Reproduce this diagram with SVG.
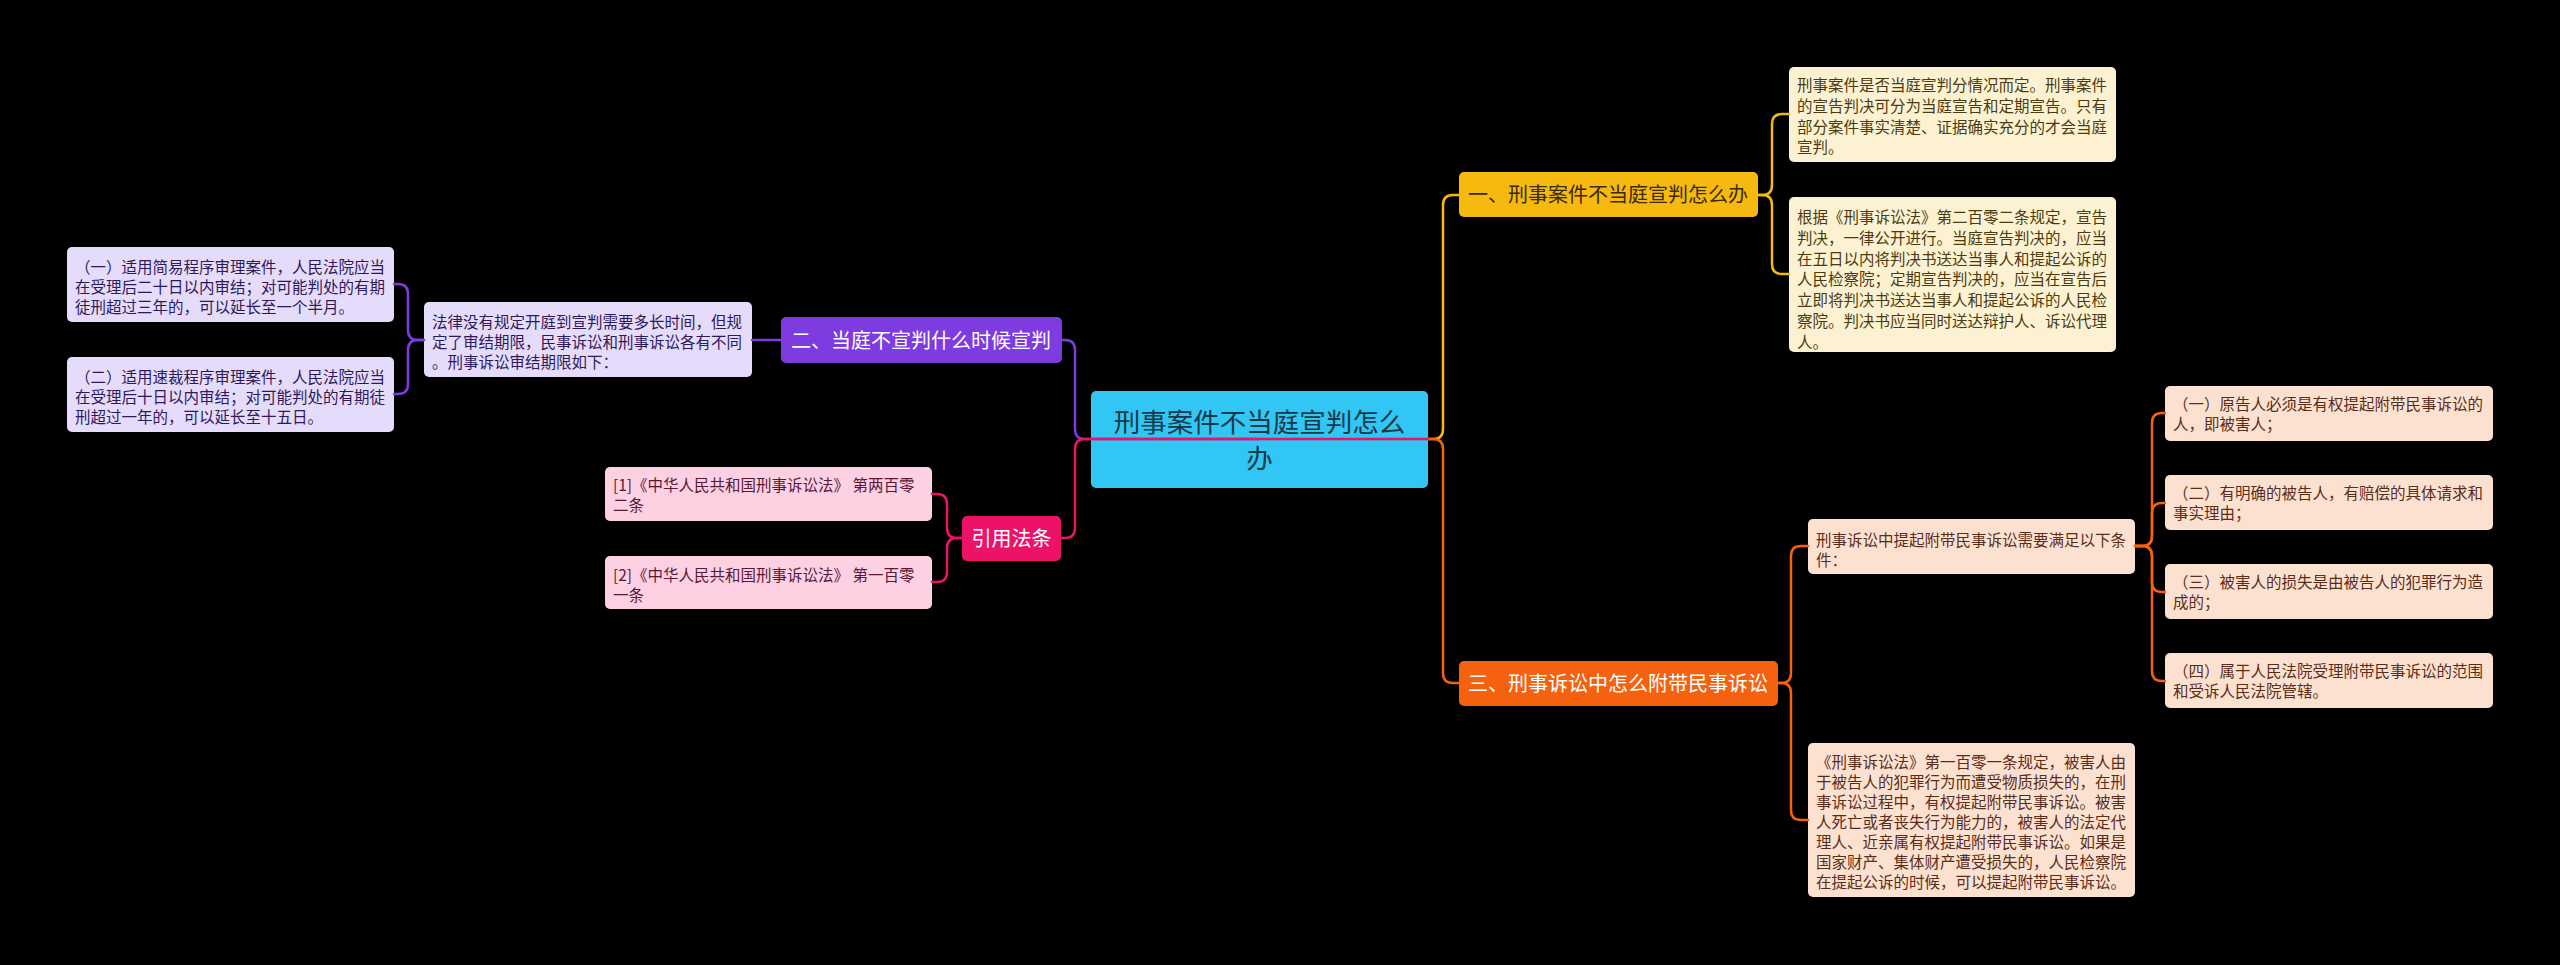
<svg xmlns="http://www.w3.org/2000/svg" width="2560" height="965" viewBox="0 0 2560 965">
<style>
text{font-family:"Noto Sans CJK SC","Noto Sans",sans-serif;}
.t{font-size:15.5px;}
.n{font-size:20px;}
.c{fill:none;stroke-width:2.5;stroke-linecap:round;}
.y{stroke:#f5b90f}.o{stroke:#f4620f}.p{stroke:#7d3be0}.k{stroke:#ec1268}
</style>
<rect x="0" y="0" width="2560" height="965" fill="#000"/>
<g id="root">
<rect x="1091" y="391" width="337" height="97" rx="5" fill="#31c6f3"/>
<text x="1259.5" y="432" font-size="26.5" fill="#153a4a" text-anchor="middle">刑事案件不当庭宣判怎么<tspan x="1259.5" dy="36">办</tspan></text>
</g>
<g id="n1">
<rect x="1459" y="172" width="299" height="45" rx="5" fill="#f5b90f"/>
<text class="n" x="1468" y="202" fill="#3a2a05">一、刑事案件不当庭宣判怎么办</text>
</g>
<g id="n1a">
<rect x="1789" y="67" width="327" height="95" rx="5" fill="#fcf2d2"/>
<text class="t" x="1797" y="91" fill="#4d3b10">刑事案件是否当庭宣判分情况而定。刑事案件<tspan x="1797" dy="20.8">的宣告判决可分为当庭宣告和定期宣告。只有</tspan><tspan x="1797" dy="20.8">部分案件事实清楚、证据确实充分的才会当庭</tspan><tspan x="1797" dy="20.8">宣判。</tspan></text>
</g>
<g id="n1b">
<rect x="1789" y="197" width="327" height="155" rx="5" fill="#fcf2d2"/>
<text class="t" x="1797" y="223" fill="#4d3b10">根据《刑事诉讼法》第二百零二条规定，宣告<tspan x="1797" dy="20.8">判决，一律公开进行。当庭宣告判决的，应当</tspan><tspan x="1797" dy="20.8">在五日以内将判决书送达当事人和提起公诉的</tspan><tspan x="1797" dy="20.8">人民检察院；定期宣告判决的，应当在宣告后</tspan><tspan x="1797" dy="20.8">立即将判决书送达当事人和提起公诉的人民检</tspan><tspan x="1797" dy="20.8">察院。判决书应当同时送达辩护人、诉讼代理</tspan><tspan x="1797" dy="20.8">人。</tspan></text>
</g>
<g id="n3">
<rect x="1459" y="661" width="319" height="45" rx="5" fill="#f4620f"/>
<text class="n" x="1468" y="691" fill="#fff">三、刑事诉讼中怎么附带民事诉讼</text>
</g>
<g id="n3a">
<rect x="1808" y="519" width="327" height="55" rx="5" fill="#fde1d0"/>
<text class="t" x="1816" y="546" fill="#5a2d1a">刑事诉讼中提起附带民事诉讼需要满足以下条<tspan x="1816" dy="19.5">件：</tspan></text>
</g>
<g id="n3a1">
<rect x="2165" y="386" width="328" height="55" rx="5" fill="#fde1d0"/>
<text class="t" x="2173" y="410" fill="#5a2d1a">（一）原告人必须是有权提起附带民事诉讼的<tspan x="2173" dy="19.5">人，即被害人；</tspan></text>
</g>
<g id="n3a2">
<rect x="2165" y="475" width="328" height="55" rx="5" fill="#fde1d0"/>
<text class="t" x="2173" y="499" fill="#5a2d1a">（二）有明确的被告人，有赔偿的具体请求和<tspan x="2173" dy="19.5">事实理由；</tspan></text>
</g>
<g id="n3a3">
<rect x="2165" y="564" width="328" height="55" rx="5" fill="#fde1d0"/>
<text class="t" x="2173" y="588" fill="#5a2d1a">（三）被害人的损失是由被告人的犯罪行为造<tspan x="2173" dy="19.5">成的；</tspan></text>
</g>
<g id="n3a4">
<rect x="2165" y="653" width="328" height="55" rx="5" fill="#fde1d0"/>
<text class="t" x="2173" y="677" fill="#5a2d1a">（四）属于人民法院受理附带民事诉讼的范围<tspan x="2173" dy="19.5">和受诉人民法院管辖。</tspan></text>
</g>
<g id="n3b">
<rect x="1808" y="743" width="327" height="154" rx="5" fill="#fde1d0"/>
<text class="t" x="1816" y="768" fill="#5a2d1a">《刑事诉讼法》第一百零一条规定，被害人由<tspan x="1816" dy="20">于被告人的犯罪行为而遭受物质损失的，在刑</tspan><tspan x="1816" dy="20">事诉讼过程中，有权提起附带民事诉讼。被害</tspan><tspan x="1816" dy="20">人死亡或者丧失行为能力的，被害人的法定代</tspan><tspan x="1816" dy="20">理人、近亲属有权提起附带民事诉讼。如果是</tspan><tspan x="1816" dy="20">国家财产、集体财产遭受损失的，人民检察院</tspan><tspan x="1816" dy="20">在提起公诉的时候，可以提起附带民事诉讼。</tspan></text>
</g>
<g id="n2">
<rect x="781" y="317" width="281" height="46" rx="5" fill="#7d3be0"/>
<text class="n" x="791" y="347.5" fill="#fff">二、当庭不宣判什么时候宣判</text>
</g>
<g id="n2a">
<rect x="424" y="302" width="328" height="75" rx="5" fill="#e5dbfa"/>
<text class="t" x="432" y="328" fill="#2e1a5a">法律没有规定开庭到宣判需要多长时间，但规<tspan x="432" dy="20">定了审结期限，民事诉讼和刑事诉讼各有不同</tspan><tspan x="432" dy="20">。刑事诉讼审结期限如下：</tspan></text>
</g>
<g id="n2a1">
<rect x="67" y="247" width="327" height="75" rx="5" fill="#e5dbfa"/>
<text class="t" x="75" y="273" fill="#2e1a5a">（一）适用简易程序审理案件，人民法院应当<tspan x="75" dy="20">在受理后二十日以内审结；对可能判处的有期</tspan><tspan x="75" dy="20">徒刑超过三年的，可以延长至一个半月。</tspan></text>
</g>
<g id="n2a2">
<rect x="67" y="357" width="327" height="75" rx="5" fill="#e5dbfa"/>
<text class="t" x="75" y="383" fill="#2e1a5a">（二）适用速裁程序审理案件，人民法院应当<tspan x="75" dy="20">在受理后十日以内审结；对可能判处的有期徒</tspan><tspan x="75" dy="20">刑超过一年的，可以延长至十五日。</tspan></text>
</g>
<g id="n4">
<rect x="962" y="516" width="99" height="45" rx="5" fill="#ec1268"/>
<text class="n" x="1011.5" y="546" fill="#fff" text-anchor="middle">引用法条</text>
</g>
<g id="n4a">
<rect x="605" y="467" width="327" height="54" rx="5" fill="#fdd0e2"/>
<text class="t" x="613" y="491" fill="#5a1838">[1]《中华人民共和国刑事诉讼法》 第两百零<tspan x="613" dy="19.5">二条</tspan></text>
</g>
<g id="n4b">
<rect x="605" y="556" width="327" height="53" rx="5" fill="#fdd0e2"/>
<text class="t" x="613" y="581" fill="#5a1838">[2]《中华人民共和国刑事诉讼法》 第一百零<tspan x="613" dy="19.5">一条</tspan></text>
</g>
<g id="connectors">
<path class="c y" d="M1428,439 H1433 Q1443,439 1443,429 V205 Q1443,195 1453,195 H1459"/>
<path class="c o" d="M1428,439 H1433 Q1443,439 1443,449 V673 Q1443,683 1453,683 H1459"/>
<path class="c p" d="M1259,439 H1085 Q1075,439 1075,429 V350 Q1075,340 1065,340 H1062"/>
<path class="c k" d="M1428,439 H1085 Q1075,439 1075,449 V528 Q1075,538 1065,538 H1061"/>
<path class="c y" d="M1758,195 H1762 Q1772,195 1772,185 V124 Q1772,114 1782,114 H1789"/>
<path class="c y" d="M1758,195 H1762 Q1772,195 1772,205 V264 Q1772,274 1782,274 H1789"/>
<path class="c o" d="M1778,683 H1781 Q1791,683 1791,673 V556 Q1791,546 1801,546 H1808"/>
<path class="c o" d="M1778,683 H1781 Q1791,683 1791,693 V810 Q1791,820 1801,820 H1808"/>
<path class="c o" d="M2135,546 H2142 Q2152,546 2152,536 V423 Q2152,413 2162,413 H2165"/>
<path class="c o" d="M2135,546 H2142 Q2152,546 2152,536 V513 Q2152,503 2162,503 H2165"/>
<path class="c o" d="M2135,546 H2142 Q2152,546 2152,556 V582 Q2152,592 2162,592 H2165"/>
<path class="c o" d="M2135,546 H2142 Q2152,546 2152,556 V671 Q2152,681 2162,681 H2165"/>
<path class="c p" d="M781,340 H752"/>
<path class="c p" d="M424,340 H418 Q408,340 408,330 V294 Q408,284 398,284 H394"/>
<path class="c p" d="M424,340 H418 Q408,340 408,350 V384 Q408,394 398,394 H394"/>
<path class="c k" d="M962,538 H957 Q947,538 947,528 V504 Q947,494 937,494 H932"/>
<path class="c k" d="M962,538 H957 Q947,538 947,548 V572 Q947,582 937,582 H932"/>
</g>
</svg>
